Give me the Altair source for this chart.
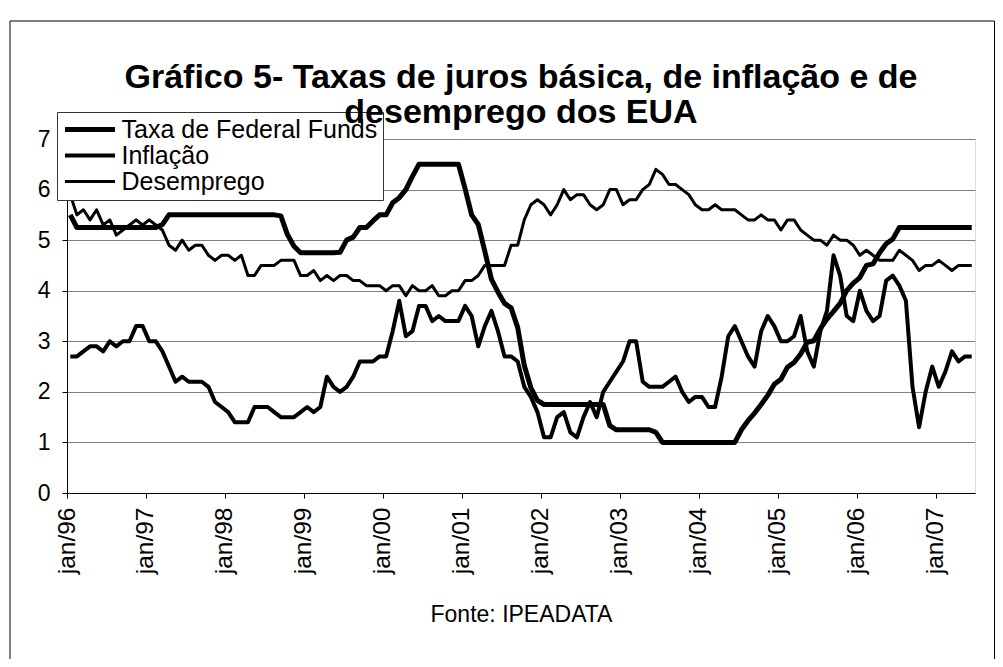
import altair as alt
import pandas as pd

FONT = "Liberation Sans"

title_lines = ["Gráfico 5- Taxas de juros básica, de inflação e de", "desemprego dos EUA"]
source_text = "Fonte: IPEADATA"
series_names = ["Taxa de Federal Funds", "Inflação", "Desemprego"]
tick_labels = ["jan/96", "jan/97", "jan/98", "jan/99", "jan/00", "jan/01",
               "jan/02", "jan/03", "jan/04", "jan/05", "jan/06", "jan/07"]
y_ticks = [0, 1, 2, 3, 4, 5, 6, 7]

# monthly values, jan/96 .. jun/07
fed_funds = [
    5.5, 5.25, 5.25, 5.25, 5.25, 5.25, 5.25, 5.25, 5.25, 5.25, 5.25, 5.25,
    5.25, 5.25, 5.31, 5.5, 5.5, 5.5, 5.5, 5.5, 5.5, 5.5, 5.5, 5.5,
    5.5, 5.5, 5.5, 5.5, 5.5, 5.5, 5.5, 5.5, 5.48, 5.11, 4.88, 4.75,
    4.75, 4.75, 4.75, 4.75, 4.75, 4.76, 5.0, 5.06, 5.25, 5.25, 5.38, 5.5,
    5.5, 5.74, 5.84, 6.0, 6.26, 6.5, 6.5, 6.5, 6.5, 6.5, 6.5, 6.5,
    6.02, 5.5, 5.31, 4.78, 4.23, 3.97, 3.75, 3.66, 3.27, 2.52, 2.08, 1.83,
    1.75, 1.75, 1.75, 1.75, 1.75, 1.75, 1.75, 1.75, 1.75, 1.75, 1.33, 1.25,
    1.25, 1.25, 1.25, 1.25, 1.25, 1.2, 1.0, 1.0, 1.0, 1.0, 1.0, 1.0,
    1.0, 1.0, 1.0, 1.0, 1.0, 1.0, 1.25, 1.43, 1.58, 1.75, 1.93, 2.15,
    2.25, 2.49, 2.58, 2.75, 2.98, 3.01, 3.25, 3.44, 3.59, 3.75, 4.0, 4.15,
    4.26, 4.5, 4.53, 4.75, 4.93, 5.02, 5.25, 5.25, 5.25, 5.25, 5.25, 5.25,
    5.25, 5.25, 5.25, 5.25, 5.25, 5.25,
]
inflacao = [
    2.7, 2.7, 2.8, 2.9, 2.9, 2.8, 3.0, 2.9, 3.0, 3.0, 3.3, 3.3,
    3.0, 3.0, 2.8, 2.5, 2.2, 2.3, 2.2, 2.2, 2.2, 2.1, 1.8, 1.7,
    1.6, 1.4, 1.4, 1.4, 1.7, 1.7, 1.7, 1.6, 1.5, 1.5, 1.5, 1.6,
    1.7, 1.6, 1.7, 2.3, 2.1, 2.0, 2.1, 2.3, 2.6, 2.6, 2.6, 2.7,
    2.7, 3.2, 3.8, 3.1, 3.2, 3.7, 3.7, 3.4, 3.5, 3.4, 3.4, 3.4,
    3.7, 3.5, 2.9, 3.3, 3.6, 3.2, 2.7, 2.7, 2.6, 2.1, 1.9, 1.6,
    1.1, 1.1, 1.5, 1.6, 1.2, 1.1, 1.5, 1.8, 1.5, 2.0, 2.2, 2.4,
    2.6, 3.0, 3.0, 2.2, 2.1, 2.1, 2.1, 2.2, 2.3, 2.0, 1.8, 1.9,
    1.9, 1.7, 1.7, 2.3, 3.1, 3.3, 3.0, 2.7, 2.5, 3.2, 3.5, 3.3,
    3.0, 3.0, 3.1, 3.5, 2.8, 2.5, 3.2, 3.6, 4.7, 4.3, 3.5, 3.4,
    4.0, 3.6, 3.4, 3.5, 4.2, 4.3, 4.1, 3.8, 2.1, 1.3, 2.0, 2.5,
    2.1, 2.4, 2.8, 2.6, 2.7, 2.7,
]
desemprego = [
    5.9, 5.5, 5.6, 5.4, 5.6, 5.3, 5.4, 5.1, 5.2, 5.3, 5.4, 5.3,
    5.4, 5.3, 5.2, 4.9, 4.8, 5.0, 4.8, 4.9, 4.9, 4.7, 4.6, 4.7,
    4.7, 4.6, 4.7, 4.3, 4.3, 4.5, 4.5, 4.5, 4.6, 4.6, 4.6, 4.3,
    4.3, 4.4, 4.2, 4.3, 4.2, 4.3, 4.3, 4.2, 4.2, 4.1, 4.1, 4.1,
    4.0, 4.1, 4.1, 3.9, 4.1, 4.0, 4.0, 4.1, 3.9, 3.9, 4.0, 4.0,
    4.2, 4.2, 4.3, 4.5, 4.5, 4.5, 4.5, 4.9, 4.9, 5.4, 5.7, 5.8,
    5.7, 5.5, 5.7, 6.0, 5.8, 5.9, 5.9, 5.7, 5.6, 5.7, 6.0, 6.0,
    5.7, 5.8, 5.8, 6.0, 6.1, 6.4, 6.3, 6.1, 6.1, 6.0, 5.9, 5.7,
    5.6, 5.6, 5.7, 5.6, 5.6, 5.6, 5.5, 5.4, 5.4, 5.5, 5.4, 5.4,
    5.2, 5.4, 5.4, 5.2, 5.1, 5.0, 5.0, 4.9, 5.1, 5.0, 5.0, 4.9,
    4.7, 4.8, 4.7, 4.6, 4.6, 4.6, 4.8, 4.7, 4.6, 4.4, 4.5, 4.5,
    4.6, 4.5, 4.4, 4.5, 4.5, 4.5,
]

n_months = len(fed_funds)
rows = []
for name, vals in zip(series_names, [fed_funds, inflacao, desemprego]):
    for i, v in enumerate(vals):
        rows.append({"mes": i + 0.5, "serie": name, "valor": v})
df = pd.DataFrame(rows)

label_array = "[" + ",".join("'" + t + "'" for t in tick_labels) + "]"

legend = alt.Legend(
    title=None, orient="none", legendX=-10, legendY=-27,
    fillColor="white", strokeColor="#333333", padding=5,
    symbolType="M-2.5,0L2.5,0", symbolSize=400, symbolStrokeColor="black",
    symbolOffset=15.5,
    labelFont=FONT, labelFontSize=25, labelColor="black", labelOffset=19,
    rowPadding=-2, labelLimit=400,
)

lines = alt.Chart(df).mark_line(strokeJoin="round", strokeCap="butt").encode(
    x=alt.X("mes:Q",
            scale=alt.Scale(domain=[0, n_months], nice=False, zero=False),
            axis=alt.Axis(values=[12 * k for k in range(len(tick_labels))],
                          labelExpr=label_array + "[round(datum.value / 12)]",
                          labelAngle=-90, labelFont=FONT, labelFontSize=24.5,
                          labelColor="black", labelPadding=9, labelFlush=False,
                          labelOverlap=False,
                          tickSize=5, tickColor="black", domainColor="black",
                          grid=False, title=source_text, titleFont=FONT,
                          titleFontSize=23, titleFontWeight="normal",
                          titleColor="black", titlePadding=30)),
    y=alt.Y("valor:Q",
            scale=alt.Scale(domain=[0, 7], nice=False),
            axis=alt.Axis(values=y_ticks, format="d", labelFont=FONT,
                          labelFontSize=23, labelColor="black", labelPadding=12,
                          tickSize=5, tickColor="black", domainColor="black",
                          grid=True, gridColor="#808080", gridWidth=1,
                          title=None)),
    color=alt.Color("serie:N", sort=series_names,
                    scale=alt.Scale(domain=series_names, range=["black", "black", "black"]),
                    legend=legend),
    strokeWidth=alt.StrokeWidth("serie:N", sort=series_names,
                                scale=alt.Scale(domain=series_names, range=[5, 3, 1.3]),
                                legend=legend),
)

frame = alt.Chart(pd.DataFrame({"k": [0]})).mark_rect(
    fillOpacity=0, stroke="black", strokeWidth=1
).encode(
    x=alt.value(-57), x2=alt.value(927.5), y=alt.value(-118), y2=alt.value(560)
)

chart = alt.layer(frame, lines).properties(
    width=908, height=354,
    title=alt.TitleParams(title_lines, font=FONT, fontSize=34, fontWeight="bold",
                          color="black", anchor="middle", frame="group",
                          offset=-109, lineHeight=35),
    padding={"left": 59, "top": 131, "right": 20, "bottom": 166},
    autosize=alt.AutoSizeParams(type="none"),
).configure_view(stroke="#808080", strokeWidth=1).configure(background="white")

chart.save("out.html", embed_options={"renderer": "svg", "actions": False})
